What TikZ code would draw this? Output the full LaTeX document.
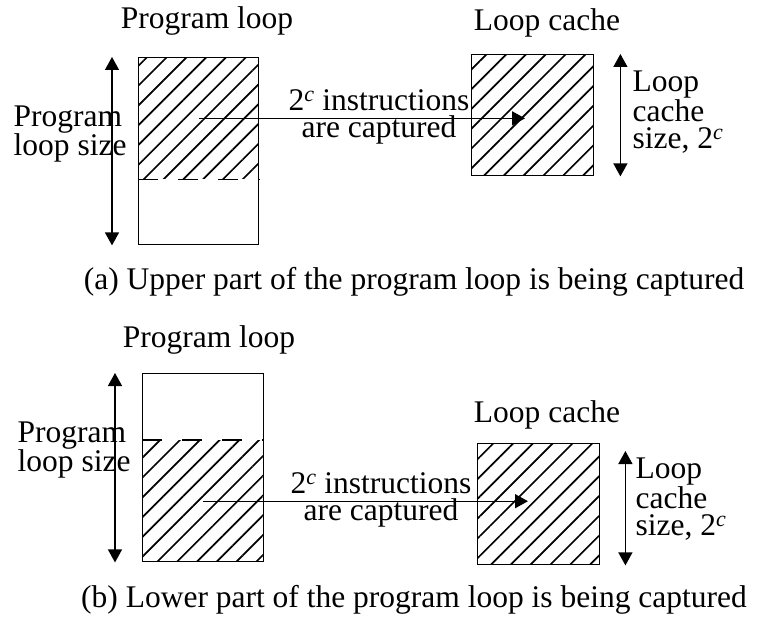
\documentclass[tikz,border=0pt]{standalone}
\usepackage{fontspec}
\setmainfont{Liberation Serif}
\usepackage{tikz}
\usetikzlibrary{arrows.meta,patterns.meta,positioning,calc}

\begin{document}
\begin{tikzpicture}[
  x=1pt, y=-1pt,
  font=\fontsize{31.5}{27}\selectfont, >={Triangle[length=13pt,width=14pt]},
  line width=1.4pt,
  box/.style={draw, line width=1.4pt, inner sep=0pt, anchor=north west},
  hatched/.style={inner sep=0pt, anchor=north west,
    pattern={Lines[angle=45, distance=14pt, line width=1.7pt]}},
  lbl/.style={inner sep=0pt, align=left, anchor=west},
  ttl/.style={inner sep=0pt},
]
\useasboundingbox (0,0) rectangle (759,620);
% ---- panel (a): upper part captured
\node[ttl] (prog-a-t) at (207,21) {Program loop};
\node[hatched, minimum width=120pt, minimum height=121pt] (hatch-a) at (138,57) {};
\node[box, minimum width=120pt, minimum height=187pt] (prog-a) at (138,57) {};
\draw[dashed, dash pattern=on 20pt off 20pt] (hatch-a.south west) -- (hatch-a.south east);
\node[ttl] (cache-a-t) at (547,23) {Loop cache};
\node[hatched, minimum width=122pt, minimum height=121pt] (cachefill-a) at (471,54) {};
\node[box, minimum width=122pt, minimum height=121pt] (cache-a) at (471,54) {};
\coordinate (tip-a) at (525,119);
\draw[<->] ([xshift=-26pt]prog-a.north west) -- ([xshift=-26pt]prog-a.south west);
\draw[<->] ([xshift=26pt]cache-a.north east) -- ([xshift=26pt]cache-a.south east);
\draw[->] (hatch-a.center) -- (hatch-a.center -| tip-a);
\node[lbl] (size-a) at (13,134) {Program\\loop size};
\node[lbl] (csize-a) at (632,112) {Loop\\cache\\size, 2\textsuperscript{\itshape c}};
\node[ttl, align=center] (cap-a) at (379,117) {2\textsuperscript{\itshape c} instructions\\are captured};
\node[ttl] (capt-a) at (414,282) {(a) Upper part of the program loop is being captured};
% ---- panel (b): lower part captured
\node[ttl] (prog-b-t) at (209,340) {Program loop};
\node[hatched, minimum width=121pt, minimum height=121pt] (hatch-b) at (142,440) {};
\node[box, minimum width=121pt, minimum height=188pt] (prog-b) at (142,373) {};
\draw[dashed, dash pattern=on 20pt off 20pt] (hatch-b.north west) -- (hatch-b.north east);
\node[ttl] (cache-b-t) at (547,415) {Loop cache};
\node[hatched, minimum width=122pt, minimum height=121pt] (cachefill-b) at (477,443) {};
\node[box, minimum width=122pt, minimum height=121pt] (cache-b) at (477,443) {};
\coordinate (tip-b) at (528,503);
\draw[<->] ([xshift=-27pt]prog-b.north west) -- ([xshift=-27pt]prog-b.south west);
\draw[<->] ([xshift=25pt,yshift=-8pt]cache-b.north east) -- ([xshift=25pt]cache-b.south east);
\draw[->] (hatch-b.center) -- (hatch-b.center -| tip-b);
\node[lbl] (size-b) at (17,450) {Program\\loop size};
\node[lbl] (csize-b) at (635,499) {Loop\\cache\\size, 2\textsuperscript{\itshape c}};
\node[ttl, align=center] (cap-b) at (381,500) {2\textsuperscript{\itshape c} instructions\\are captured};
\node[ttl] (capt-b) at (414,600) {(b) Lower part of the program loop is being captured};
\end{tikzpicture}
\end{document}
